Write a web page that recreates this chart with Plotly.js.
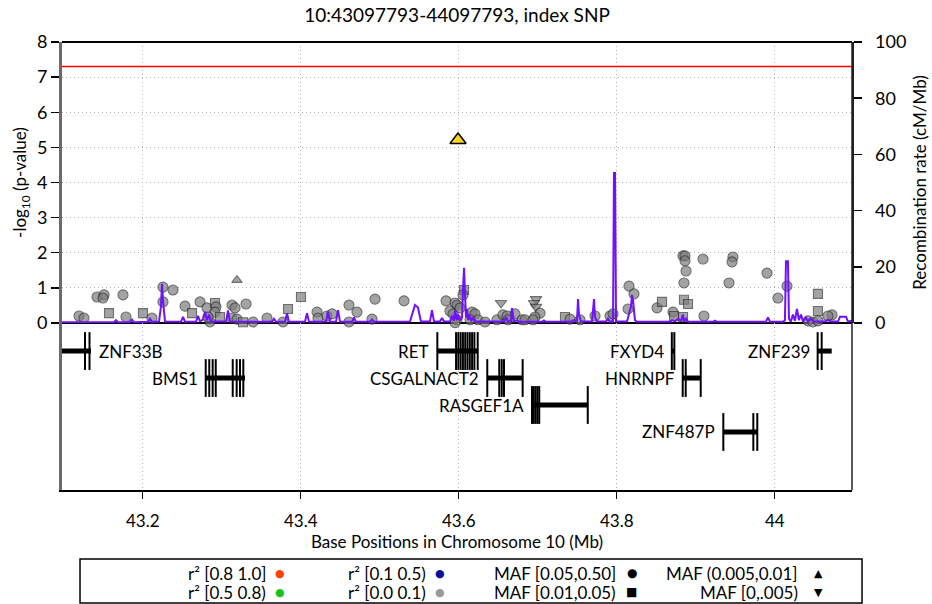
<!DOCTYPE html>
<html>
<head>
<meta charset="utf-8">
<script src="https://cdn.plot.ly/plotly-3.0.1.min.js"></script>
<style>
  html, body { margin: 0; padding: 0; background: #ffffff; }
  #plot { width: 932px; height: 604px; }
</style>
</head>
<body>
<div id="plot"></div>
<script>
// ---- Region shown and genome-wide significance level ----
const regionTitle = '10:43097793-44097793, index SNP';
const regionStart = 43.097793;
const regionEnd = 44.097793;
const gwasThreshold = 7.3;

const xTickVals = [43.2, 43.4, 43.6, 43.8, 44.0];
const xTickText = ['43.2', '43.4', '43.6', '43.8', '44'];
const pTickVals = [0, 1, 2, 3, 4, 5, 6, 7, 8];
const recTickVals = [0, 20, 40, 60, 80, 100];

// ---- Index SNP (MAF class 2: (0.005,0.01]) ----
const indexPos = [43.5991];
const indexLogP = [5.21];
const indexMafClass = [2];

// ---- Other SNPs: position (Mb), -log10 p, MAF class ----
// MAF class: 0 = [0.05,0.50], 1 = [0.01,0.05), 2 = (0.005,0.01], 3 = [0,.005)
const snpPos = [
  43.1193, 43.1256, 43.1421, 43.1510, 43.1497, 43.1573, 43.1750, 43.1788, 43.2003, 43.2117,
  43.2256, 43.2256, 43.2383, 43.2535, 43.2624, 43.2725, 43.2813, 43.2915, 43.2927, 43.2915,
  43.2978, 43.2851, 43.2826, 43.3193, 43.3130, 43.3168, 43.3307, 43.3130, 43.3193, 43.3269,
  43.3396, 43.3573, 43.3775, 43.3839, 43.4003, 43.4206, 43.4218, 43.4332, 43.4396, 43.4611,
  43.4611, 43.4712, 43.4940, 43.4902, 43.5307, 43.5839, 43.5953, 43.5978, 43.5889, 43.5927,
  43.6016, 43.5978, 43.5953, 43.6067, 43.6054, 43.6168, 43.6206, 43.6244, 43.6333, 43.6143,
  43.6535, 43.6484, 43.6560, 43.6611, 43.6624, 43.6712, 43.6801, 43.6839, 43.6978, 43.6953,
  43.6978, 43.7029, 43.6965, 43.6940, 43.7345, 43.7408, 43.7535, 43.7725, 43.7915, 43.7953,
  43.8155, 43.8218, 43.8143, 43.8510, 43.8573, 43.8712, 43.8725, 43.8839, 43.8864, 43.8864,
  43.8877, 43.8851, 43.8851, 43.8902, 43.8839, 43.9104, 43.9092, 43.9471, 43.9459, 43.9421,
  43.9902, 44.0155, 44.0041, 44.0547, 44.0547, 44.0421, 44.0484, 44.0547, 44.0725, 44.0674
];
const snpLogP = [
  0.20, 0.14, 0.74, 0.80, 0.71, 0.28, 0.80, 0.17, 0.28, 0.14,
  1.02, 0.60, 0.94, 0.48, 0.28, 0.60, 0.43, 0.57, 0.46, 0.31,
  0.17, 0.03, 0.17, 1.22, 0.51, 0.43, 0.54, 0.14, 0.11, 0.02,
  0.03, 0.14, 0.03, 0.40, 0.74, 0.31, 0.14, 0.20, 0.26, 0.51,
  0.03, 0.31, 0.68, 0.11, 0.63, 0.63, 0.57, 0.51, 0.34, 0.26,
  0.43, 0.09, 0.01, 0.94, 0.80, 0.31, 0.26, 0.09, 0.03, 0.09,
  0.57, 0.09, 0.23, 0.20, 0.09, 0.26, 0.09, 0.09, 0.68, 0.57,
  0.46, 0.28, 0.17, 0.09, 0.17, 0.11, 0.09, 0.20, 0.20, 0.26,
  1.05, 0.83, 0.40, 0.43, 0.60, 0.31, 0.20, 1.91, 1.91, 1.77,
  1.48, 1.14, 0.66, 0.54, 0.17, 0.20, 1.82, 1.88, 1.74, 1.14,
  1.42, 1.05, 0.71, 0.83, 0.34, 0.06, 0.03, 0.06, 0.23, 0.20
];
const snpMafClass = [
  0, 0, 0, 0, 0, 1, 0, 0, 1, 0,
  0, 0, 0, 0, 1, 0, 0, 1, 0, 0,
  1, 0, 0, 2, 0, 0, 0, 0, 0, 1,
  0, 0, 0, 1, 1, 0, 0, 0, 0, 0,
  0, 0, 0, 0, 0, 0, 0, 0, 0, 0,
  0, 0, 0, 1, 0, 0, 0, 0, 0, 0,
  3, 0, 0, 0, 0, 0, 0, 0, 3, 3,
  3, 0, 0, 0, 1, 0, 0, 0, 0, 0,
  0, 0, 0, 0, 1, 0, 1, 0, 0, 0,
  0, 0, 1, 1, 1, 0, 0, 0, 0, 0,
  0, 0, 0, 1, 1, 0, 0, 0, 0, 0
];

// ---- Recombination rate (cM/Mb) ----
const recPos = [
  43.0978, 43.1459, 43.1636, 43.1661, 43.1687, 43.1839, 43.1864, 43.1889, 43.2067, 43.2092,
  43.2117, 43.2206, 43.2231, 43.2244, 43.2256, 43.2282, 43.2484, 43.2510, 43.2535, 43.2674,
  43.2699, 43.2725, 43.2763, 43.2788, 43.2813, 43.2839, 43.2864, 43.3054, 43.3079, 43.3104,
  43.3636, 43.3661, 43.3687, 43.3801, 43.3826, 43.3851, 43.4054, 43.4079, 43.4105, 43.4320,
  43.4345, 43.4370, 43.4446, 43.4472, 43.4497, 43.4649, 43.4674, 43.4699, 43.4877, 43.4902,
  43.4927, 43.5383, 43.5421, 43.5446, 43.5484, 43.5522, 43.5636, 43.5661, 43.5687, 43.5763,
  43.5788, 43.5813, 43.5889, 43.5915, 43.5940, 43.5953, 43.5978, 43.5991, 43.6016, 43.6042,
  43.6054, 43.6067, 43.6080, 43.6092, 43.6105, 43.6118, 43.6130, 43.6156, 43.6181, 43.6206,
  43.6573, 43.6599, 43.6624, 43.6662, 43.6674, 43.6700, 43.6738, 43.6763, 43.7054, 43.7079,
  43.7105, 43.7421, 43.7446, 43.7497, 43.7510, 43.7522, 43.7547, 43.7687, 43.7712, 43.7725,
  43.7750, 43.7864, 43.7889, 43.7914, 43.7953, 43.7965, 43.7978, 43.7991, 43.8130, 43.8155,
  43.8181, 43.8193, 43.8206, 43.8231, 43.8257, 43.8674, 43.8700, 43.8738, 43.8776, 43.8814,
  43.8839, 43.8851, 43.8877, 43.8902, 43.9218, 43.9244, 43.9269, 43.9889, 43.9914, 43.9940,
  44.0104, 44.0129, 44.0142, 44.0167, 44.0180, 44.0205, 44.0230, 44.0256, 44.0281, 44.0306,
  44.0332, 44.0357, 44.0395, 44.0420, 44.0458, 44.0496, 44.0636, 44.0674, 44.0712, 44.0800,
  44.0826, 44.0902, 44.0927, 44.0978
];
const recRate = [
  0.3, 0.3, 0.3, 1.0, 0.3, 0.3, 1.2, 0.3, 0.4, 1.5,
  0.4, 0.5, 6.0, 13.9, 8.0, 0.5, 0.4, 2.2, 0.4, 0.4,
  2.5, 0.6, 1.2, 4.0, 1.0, 3.0, 0.5, 0.5, 4.5, 0.5,
  0.4, 1.5, 0.4, 0.4, 3.5, 0.4, 0.4, 3.5, 0.4, 0.4,
  4.0, 0.4, 0.4, 4.6, 0.4, 0.4, 2.0, 0.4, 0.4, 1.2,
  0.4, 0.5, 4.0, 6.4, 5.5, 0.5, 0.5, 4.6, 0.5, 0.5,
  1.8, 0.5, 0.6, 2.5, 0.8, 4.5, 1.0, 3.0, 1.0, 2.0,
  12.0, 19.6, 10.0, 2.0, 5.0, 1.0, 3.0, 0.6, 2.0, 0.5,
  0.5, 2.0, 0.5, 0.5, 5.3, 0.5, 1.0, 0.4, 0.4, 0.9,
  0.4, 0.4, 1.0, 0.8, 8.5, 3.0, 0.5, 0.5, 8.5, 2.0,
  0.5, 0.5, 1.5, 0.4, 0.5, 53.4, 53.4, 0.5, 0.5, 3.0,
  6.0, 10.0, 8.0, 1.0, 0.4, 0.4, 1.0, 0.6, 1.5, 0.8,
  3.0, 0.6, 1.5, 0.4, 0.4, 0.8, 0.4, 0.4, 2.0, 0.4,
  0.4, 1.0, 22.0, 22.0, 1.5, 0.5, 3.0, 0.8, 5.0, 1.0,
  3.0, 0.5, 2.0, 0.5, 1.5, 0.5, 0.5, 1.2, 0.5, 0.5,
  2.2, 2.2, 0.5, 0.8
];

// ---- Genes in the region (Mb), track row and exon positions ----
const geneNames = ['ZNF33B', 'BMS1', 'RET', 'CSGALNACT2', 'RASGEF1A', 'FXYD4', 'HNRNPF', 'ZNF487P', 'ZNF239'];
const geneStart = [43.0700, 43.2797, 43.5729, 43.6361, 43.6927, 43.8697, 43.8835, 43.9349, 44.0543];
const geneEnd   = [43.1345, 43.3294, 43.6244, 43.6809, 43.7633, 43.8729, 43.9063, 43.9779, 44.0721];
const geneRow   = [0, 1, 0, 1, 2, 0, 1, 3, 0];
const geneExons = [
  [43.1269, 43.1326],
  [43.2797, 43.2842, 43.2885, 43.2924, 43.3139, 43.3189, 43.3231, 43.3273],
  [43.5729, 43.5966, 43.5995, 43.6024, 43.6053, 43.6082, 43.6111, 43.6140, 43.6169, 43.6198, 43.6240],
  [43.6361, 43.6513, 43.6544, 43.6573, 43.6809],
  [43.6927, 43.6950, 43.6973, 43.6996, 43.7019, 43.7633],
  [43.8697, 43.8729],
  [43.8835, 43.8873, 43.9063],
  [43.9349, 43.9729, 43.9779],
  [44.0543, 44.0594]
];

// ---- Legend entries ----
const r2Labels = ['r\u00B2 [0.8 1.0]', 'r\u00B2 [0.5 0.8)', 'r\u00B2 [0.1 0.5)', 'r\u00B2 [0.0 0.1)'];
const r2Colors = ['#ff4000', '#1fbf1f', '#0c0c9e', '#9a9a9a'];
const mafLabels = ['MAF [0.05,0.50]', 'MAF [0.01,0.05)', 'MAF (0.005,0.01]', 'MAF [0,.005)'];
const mafGlyphs = ['\u25CF', '\u25A0', '\u25B2', '\u25BC'];

// ---- Styling ----
const FONT = 'Lato, "Open Sans", "DejaVu Sans", sans-serif';
const mafSymbol = ['circle', 'square', 'triangle-up', 'triangle-down'];
const mafSize = [10, 9, 9, 10];
const pointFill = '#7d7d7d';
const pointEdge = '#303030';
const recColor = '#7010ff';
const gridColor = '#b4b4b4';

// ---- Traces ----
const snpTrace = {
  type: 'scatter', mode: 'markers',
  x: snpPos, y: snpLogP,
  xaxis: 'x', yaxis: 'y',
  cliponaxis: false,
  marker: {
    symbol: snpMafClass.map(c => mafSymbol[c]),
    size: snpMafClass.map(c => mafSize[c]),
    color: pointFill,
    line: { color: pointEdge, width: 1.1 }
  },
  hoverinfo: 'x+y'
};

const recTrace = {
  type: 'scatter', mode: 'lines',
  x: recPos, y: recRate,
  xaxis: 'x', yaxis: 'y2',
  line: { color: recColor, width: 2 },
  hoverinfo: 'x+y'
};

const indexTrace = {
  type: 'scatter', mode: 'markers',
  x: indexPos, y: indexLogP,
  xaxis: 'x', yaxis: 'y',
  cliponaxis: false,
  marker: {
    symbol: indexMafClass.map(c => mafSymbol[c]),
    size: 14,
    color: '#ffd21f',
    line: { color: '#000000', width: 1.5 }
  },
  hoverinfo: 'x+y'
};

// Gene bodies as thick horizontal segments
const bodyX = [], bodyY = [];
geneNames.forEach((g, i) => {
  bodyX.push(geneStart[i], geneEnd[i], null);
  bodyY.push(geneRow[i], geneRow[i], null);
});
const geneBodyTrace = {
  type: 'scatter', mode: 'lines',
  x: bodyX, y: bodyY,
  xaxis: 'x', yaxis: 'y3',
  line: { color: '#000000', width: 5 },
  hoverinfo: 'skip'
};

// Exons as vertical ticks
const exonX = [], exonY = [];
geneExons.forEach((ex, i) => ex.forEach(p => { exonX.push(p); exonY.push(geneRow[i]); }));
const exonTrace = {
  type: 'scatter', mode: 'markers',
  x: exonX, y: exonY,
  xaxis: 'x', yaxis: 'y3',
  marker: { symbol: 'line-ns', size: 27, line: { color: '#000000', width: 2 } },
  hoverinfo: 'skip'
};

// Gene labels: left of the gene, or right of it when the gene runs off the left edge
const geneLabels = geneNames.map((g, i) => {
  const clipped = geneStart[i] < regionStart;
  return {
    xref: 'x', yref: 'y3',
    x: clipped ? geneEnd[i] : geneStart[i],
    y: geneRow[i],
    text: g,
    showarrow: false,
    xanchor: clipped ? 'left' : 'right',
    xshift: clipped ? 6 : -6,
    yanchor: 'middle',
    font: { family: FONT, size: 17, color: '#000000' }
  };
});

// Legend box (two rows, four columns)
const legendColX = [0.2608, 0.4633, 0.7038, 0.9342];
const legendGlyphX = [0.2759, 0.4785, 0.7215, 0.9570];
const legendRowY = [-0.1853, -0.2277];
const legendAnns = [];
const legendItems = [
  { label: r2Labels[0], glyph: '\u25CF', color: r2Colors[0], col: 0, row: 0, gs: 11 },
  { label: r2Labels[1], glyph: '\u25CF', color: r2Colors[1], col: 0, row: 1, gs: 11 },
  { label: r2Labels[2], glyph: '\u25CF', color: r2Colors[2], col: 1, row: 0, gs: 11 },
  { label: r2Labels[3], glyph: '\u25CF', color: r2Colors[3], col: 1, row: 1, gs: 11 },
  { label: mafLabels[0], glyph: mafGlyphs[0], color: '#000000', col: 2, row: 0, gs: 12 },
  { label: mafLabels[1], glyph: mafGlyphs[1], color: '#000000', col: 2, row: 1, gs: 12 },
  { label: mafLabels[2], glyph: mafGlyphs[2], color: '#000000', col: 3, row: 0, gs: 11 },
  { label: mafLabels[3], glyph: mafGlyphs[3], color: '#000000', col: 3, row: 1, gs: 11 }
];
legendItems.forEach(it => {
  legendAnns.push({
    xref: 'paper', yref: 'paper',
    x: legendColX[it.col], y: legendRowY[it.row],
    text: it.label, showarrow: false,
    xanchor: 'right', yanchor: 'middle',
    font: { family: FONT, size: 17, color: '#000000' }
  });
  legendAnns.push({
    xref: 'paper', yref: 'paper',
    x: legendGlyphX[it.col], y: legendRowY[it.row],
    text: it.glyph, showarrow: false,
    xanchor: 'center', yanchor: 'middle',
    font: { family: 'DejaVu Sans, sans-serif', size: it.gs, color: it.color }
  });
});

const panelSplit = 0.3728;

const layout = {
  width: 932, height: 604,
  margin: { l: 62, r: 80, t: 42, b: 114, pad: 0 },
  paper_bgcolor: '#ffffff', plot_bgcolor: '#ffffff',
  showlegend: false,
  font: { family: FONT, size: 17, color: '#000000' },
  title: {
    text: regionTitle,
    font: { family: FONT, size: 19, color: '#000000' },
    x: 0.5, xref: 'paper', xanchor: 'center',
    y: 0.975, yref: 'container', yanchor: 'middle'
  },
  xaxis: {
    range: [regionStart, regionEnd],
    anchor: 'y3',
    tickvals: xTickVals, ticktext: xTickText,
    ticks: 'outside', ticklen: 7, tickwidth: 1.5, tickcolor: '#000000',
    ticklabelstandoff: 8,
    showline: true, linecolor: '#000000', linewidth: 1.5,
    showgrid: true, gridcolor: gridColor, griddash: '1px,3px', gridwidth: 1,
    zeroline: false,
    tickfont: { family: FONT, size: 17 },
    title: { text: 'Base Positions in Chromosome 10 (Mb)', font: { family: FONT, size: 17 }, standoff: 0 }
  },
  yaxis: {
    domain: [panelSplit, 1],
    range: [0, 8],
    anchor: 'x',
    tickvals: pTickVals,
    ticks: 'outside', ticklen: 8, tickwidth: 1.5, tickcolor: '#000000',
    showline: true, linecolor: '#6a6a6a', linewidth: 3,
    showgrid: true, gridcolor: gridColor, griddash: '1px,3px', gridwidth: 1,
    zeroline: true, zerolinecolor: '#000000', zerolinewidth: 2,
    tickfont: { family: FONT, size: 18 },
    title: { text: '-log<sub>10</sub> (p-value)', font: { family: FONT, size: 17 }, standoff: 6 }
  },
  yaxis2: {
    overlaying: 'y', side: 'right', anchor: 'x',
    range: [0, 100],
    tickvals: recTickVals,
    ticks: 'outside', ticklen: 8, tickwidth: 1.5, tickcolor: '#000000',
    ticklabelstandoff: 10,
    showline: true, linecolor: '#222222', linewidth: 1.5,
    showgrid: false, zeroline: false,
    tickfont: { family: FONT, size: 18 },
    title: { text: 'Recombination rate (cM/Mb)', font: { family: FONT, size: 17 }, standoff: 8 }
  },
  yaxis3: {
    domain: [0, panelSplit],
    range: [5.15, -1.04],
    anchor: 'x',
    showticklabels: false, ticks: '',
    showline: true, linecolor: '#6a6a6a', linewidth: 3,
    showgrid: false, zeroline: false
  },
  shapes: [
    // genome-wide significance line
    { type: 'line', xref: 'paper', yref: 'y', x0: 0, x1: 1, y0: gwasThreshold, y1: gwasThreshold,
      line: { color: '#ff0000', width: 1.5 } },
    // frame: top and right edges
    { type: 'line', xref: 'paper', yref: 'paper', x0: 0, x1: 1, y0: 1, y1: 1,
      line: { color: '#000000', width: 2 } },
    { type: 'line', xref: 'paper', yref: 'paper', x0: 1, x1: 1, y0: 0, y1: 1,
      line: { color: '#222222', width: 1.5 } },
    // legend box
    { type: 'rect', xref: 'paper', yref: 'paper', x0: 0.0228, x1: 1.0127, y0: -0.2522, y1: -0.1540,
      line: { color: '#000000', width: 1.5 }, fillcolor: 'rgba(0,0,0,0)' }
  ],
  annotations: geneLabels.concat(legendAnns)
};

Plotly.newPlot('plot', [snpTrace, geneBodyTrace, exonTrace, recTrace, indexTrace], layout,
  { displayModeBar: false, staticPlot: true });
</script>
</body>
</html>
